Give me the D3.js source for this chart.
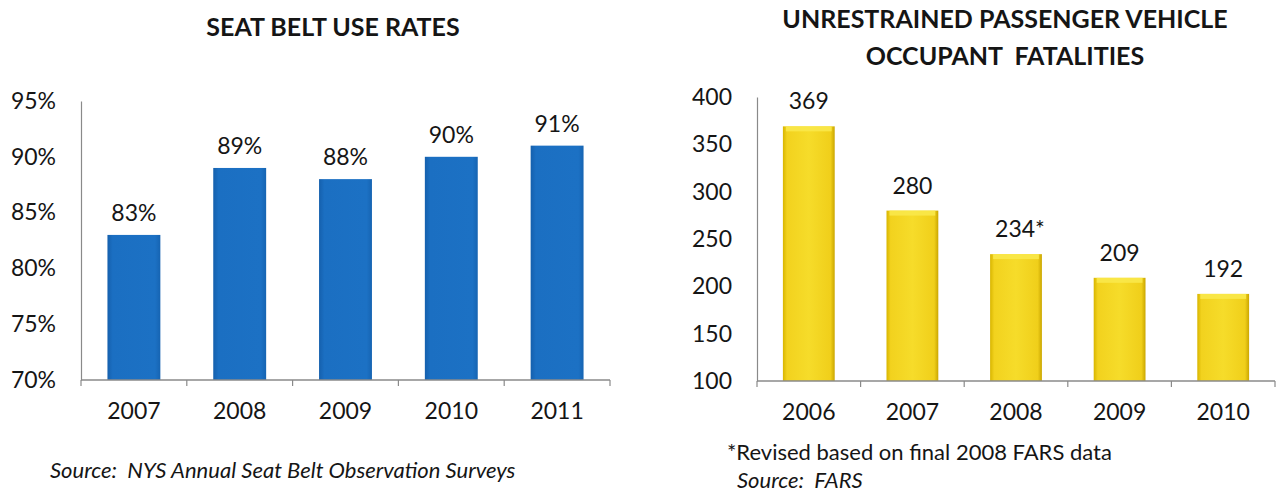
<!DOCTYPE html>
<html><head><meta charset="utf-8">
<script src="https://cdn.jsdelivr.net/npm/d3@7"></script>
<style>
html,body{margin:0;padding:0;background:#fff;}
svg{display:block;font-family:Lato,"Open Sans",sans-serif;}
</style></head>
<body><svg id="c" width="1279" height="493"></svg>
<script>
const beltYears = ["2007","2008","2009","2010","2011"];
const beltRates = [83,89,88,90,91];
const beltTicks = [70,75,80,85,90,95];
const fatalYears = ["2006","2007","2008","2009","2010"];
const fatalValues = [369,280,234,209,192];
const fatalLabels = ["369","280","234*","209","192"];
const fatalTicks = [100,150,200,250,300,350,400];

const svg = d3.select("#c");
const defs = svg.append("defs");
const yg = defs.append("linearGradient").attr("id","ygrad").attr("x1",0).attr("x2",1).attr("y1",0).attr("y2",0);
[[0,"#d8b500"],[0.08,"#f2d21e"],[0.5,"#f6dc2a"],[0.92,"#f0cf1a"],[1,"#caa600"]].forEach(s=>yg.append("stop").attr("offset",s[0]).attr("stop-color",s[1]));
const bg = defs.append("linearGradient").attr("id","bgrad").attr("x1",0).attr("x2",1).attr("y1",0).attr("y2",0);
[[0,"#1560ad"],[0.1,"#1b6fc2"],[0.9,"#1c71c4"],[1,"#1664b2"]].forEach(s=>bg.append("stop").attr("offset",s[0]).attr("stop-color",s[1]));

const TXT = "#151515";
function chart(opt){
  const g = svg.append("g");
  const x = d3.scaleBand().domain(opt.cats).range([opt.x0,opt.x1]).paddingInner(opt.pad).paddingOuter(opt.pad/2);
  const y = d3.scaleLinear().domain(opt.domain).range([opt.yb,opt.yt]);
  const ya = g.append("g").attr("transform",`translate(${opt.x0},0)`).call(d3.axisLeft(y).tickValues(opt.ticks).tickSize(0).tickPadding(opt.tp).tickFormat(opt.fmt));
  ya.select(".domain").attr("stroke","#8a8a8a").attr("stroke-width",1.2);
  ya.selectAll("text").attr("font-size",23).attr("fill",TXT).attr("font-family","Lato,sans-serif");
  g.selectAll("rect.bar").data(opt.vals).join("rect").attr("class","bar")
    .attr("x",(d,i)=>x(opt.cats[i])).attr("width",x.bandwidth())
    .attr("y",d=>y(d)).attr("height",d=>y(opt.domain[0])-y(d))
    .attr("fill",opt.fill);
  if(opt.cap){
    g.selectAll("rect.cap").data(opt.vals).join("rect").attr("class","cap")
      .attr("x",(d,i)=>x(opt.cats[i])+3).attr("width",x.bandwidth()-6)
      .attr("y",d=>y(d)).attr("height",5).attr("fill","#f9e84a").attr("opacity",0.9);
  }
  const xa = g.append("g").attr("transform",`translate(0,${opt.yb})`);
  xa.append("line").attr("x1",opt.x0).attr("x2",opt.x1).attr("stroke","#8a8a8a").attr("stroke-width",1.5);
  const step = x.step();
  xa.selectAll("line.t").data(d3.range(opt.cats.length+1)).join("line").attr("class","t")
    .attr("x1",i=>opt.x0+i*step).attr("x2",i=>opt.x0+i*step).attr("y1",0).attr("y2",6).attr("stroke","#8a8a8a").attr("stroke-width",1.2);
  xa.selectAll("text").data(opt.cats).join("text")
    .attr("x",d=>x(d)+x.bandwidth()/2).attr("y",39).attr("text-anchor","middle")
    .attr("font-size",23).attr("fill",TXT).text(d=>d);
  g.selectAll("text.v").data(opt.vals).join("text").attr("class","v")
    .attr("x",(d,i)=>x(opt.cats[i])+x.bandwidth()/2 + (opt.labels[i].endsWith("*")?4:0)).attr("y",d=>y(d)-opt.lo)
    .attr("text-anchor","middle").attr("font-size",23).attr("fill",TXT)
    .text((d,i)=>opt.labels[i]);
}

chart({cats:beltYears, vals:beltRates, labels:beltRates.map(v=>v+"%"), ticks:beltTicks, domain:[70,95],
  x0:81, x1:610, yb:380, yt:101, pad:0.5, fill:"url(#bgrad)", fmt:d=>d+"%", tp:25, lo:14, cap:false});
chart({cats:fatalYears, vals:fatalValues, labels:fatalLabels, ticks:fatalTicks, domain:[100,400],
  x0:757, x1:1275, yb:381, yt:97, pad:0.5, fill:"url(#ygrad)", fmt:d=>d, tp:25, lo:17, cap:true});

svg.append("text").attr("x",333).attr("y",36).attr("text-anchor","middle").attr("font-size",25).attr("font-weight",700).attr("fill",TXT).text("SEAT BELT USE RATES");
svg.append("text").attr("x",1005).attr("y",28).attr("text-anchor","middle").attr("font-size",25).attr("font-weight",700).attr("fill",TXT).text("UNRESTRAINED PASSENGER VEHICLE");
svg.append("text").attr("x",1005).attr("y",65).attr("text-anchor","middle").attr("font-size",25).attr("font-weight",700).attr("fill",TXT).attr("xml:space","preserve").text("OCCUPANT  FATALITIES");
svg.append("text").attr("x",50).attr("y",478).attr("font-size",22).attr("font-style","italic").attr("fill",TXT).attr("xml:space","preserve").text("Source:  NYS Annual Seat Belt Observation Surveys");
svg.append("text").attr("x",727).attr("y",460).attr("font-size",22).attr("fill",TXT).text("*Revised based on final 2008 FARS data");
svg.append("text").attr("x",737).attr("y",488).attr("font-size",22).attr("font-style","italic").attr("fill",TXT).attr("xml:space","preserve").text("Source:  FARS");
</script></body></html>
